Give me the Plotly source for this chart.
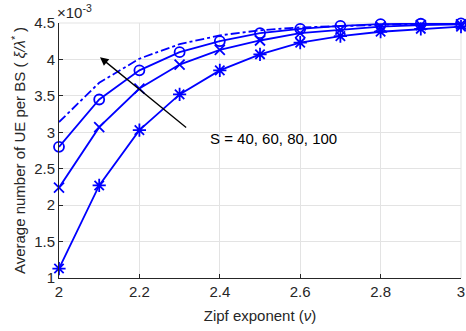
import plotly.graph_objects as go

nu = [2.0, 2.1, 2.2, 2.3, 2.4, 2.5, 2.6, 2.7, 2.8, 2.9, 3.0]
s_inf = [3.14, 3.68, 4.01, 4.21, 4.33, 4.40, 4.44, 4.46, 4.48, 4.49, 4.50]
s_100 = [2.80, 3.45, 3.85, 4.10, 4.25, 4.36, 4.42, 4.46, 4.485, 4.49, 4.495]
s_80 = [2.24, 3.07, 3.60, 3.93, 4.13, 4.26, 4.36, 4.41, 4.45, 4.47, 4.48]
s_40 = [1.13, 2.27, 3.03, 3.52, 3.85, 4.07, 4.23, 4.32, 4.38, 4.42, 4.45]
x_ticks = [2, 2.2, 2.4, 2.6, 2.8, 3]
y_ticks = [1, 1.5, 2, 2.5, 3, 3.5, 4, 4.5]
y_tick_labels = ["1", "1.5", "2", "2.5", "3", "3.5", "4", "4.5"]

blue = "#0000ff"
fig = go.Figure()
fig.add_trace(go.Scatter(x=nu, y=s_inf, mode="lines", cliponaxis=False,
                         line=dict(color=blue, width=1.8, dash="dashdot")))
fig.add_trace(go.Scatter(x=nu, y=s_100, mode="lines+markers", cliponaxis=False,
                         line=dict(color=blue, width=1.8),
                         marker=dict(symbol="circle-open", size=10, color=blue, line=dict(width=1.8))))
fig.add_trace(go.Scatter(x=nu, y=s_80, mode="lines+markers", cliponaxis=False,
                         line=dict(color=blue, width=1.8),
                         marker=dict(symbol="x-thin-open", size=10, color=blue, line=dict(width=1.8))))
fig.add_trace(go.Scatter(x=nu, y=s_40, mode="lines+markers", cliponaxis=False,
                         line=dict(color=blue, width=1.8),
                         marker=dict(symbol="asterisk-open", size=11, color=blue, line=dict(width=1.8))))

fig.add_annotation(x=2.102, y=4.03, ax=2.32, ay=3.05, xref="x", yref="y", axref="x", ayref="y",
                   text="", showarrow=True, arrowhead=2, arrowsize=1.3, arrowwidth=1.3, arrowcolor="black")
fig.add_annotation(x=2.37, y=2.91, xref="x", yref="y", text="S = 40, 60, 80, 100",
                   showarrow=False, xanchor="left", font=dict(size=15, color="black"))
fig.add_annotation(x=0, y=1, xref="paper", yref="paper", text="×10<sup>-3</sup>",
                   showarrow=False, xanchor="left", yanchor="bottom", yshift=0, xshift=-4,
                   font=dict(size=15, color="#262626"))

fig.update_layout(
    width=466, height=331,
    margin=dict(l=59, r=5, t=23, b=53),
    paper_bgcolor="white", plot_bgcolor="white",
    showlegend=False,
    font=dict(family="Liberation Sans, Arial, sans-serif", size=15, color="#262626"),
    xaxis=dict(range=[2, 3], tickvals=x_ticks, ticktext=[str(v) for v in x_ticks],
               showgrid=True, gridcolor="#e3e3e3", gridwidth=1,
               showline=True, linecolor="#262626", linewidth=1, ticks="inside", ticklen=4,
               tickcolor="#262626", zeroline=False, automargin=False,
               tickfont=dict(size=15),
               title=dict(text="Zipf exponent (<i>ν</i>)", standoff=11, font=dict(size=15))),
    yaxis=dict(range=[1, 4.5], tickvals=y_ticks, ticktext=y_tick_labels,
               showgrid=True, gridcolor="#e3e3e3", gridwidth=1,
               showline=True, linecolor="#262626", linewidth=1, ticks="inside", ticklen=4,
               tickcolor="#262626", zeroline=False, automargin=False,
               tickfont=dict(size=15),
               title=dict(text="Average number of UE per BS ( <i>ξ/λ<sup>*</sup></i> )", standoff=4,
                          font=dict(size=15))),
)
fig.add_shape(type="line", xref="paper", yref="paper", x0=0, x1=1, y0=1, y1=1,
              line=dict(color="#e3e3e3", width=1), layer="below")
fig.add_shape(type="line", xref="paper", yref="paper", x0=1, x1=1, y0=0, y1=1,
              line=dict(color="#e3e3e3", width=1), layer="below")
fig.write_html("out.html", config={"displayModeBar": False},
               post_script="document.body.style.margin='0';document.body.style.overflow='hidden';")
